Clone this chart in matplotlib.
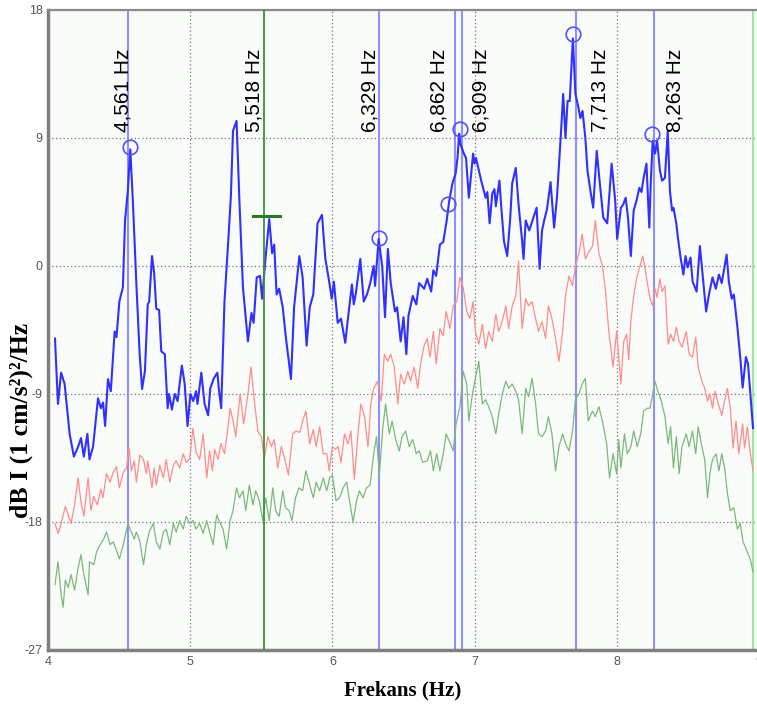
import numpy as np
import matplotlib
matplotlib.use("Agg")
import matplotlib.pyplot as plt

plt.rcParams['axes.unicode_minus'] = False
plt.rcParams['font.family'] = ['Liberation Sans', 'DejaVu Sans']

# spectrum curves: (frequency Hz, dB)
blue_pts = [
    (4.047, -5.1), (4.068, -9.7), (4.09, -7.5), (4.115, -8.3), (4.15, -11.8), (4.18, -13.4),
    (4.21, -12.7), (4.23, -12.1), (4.25, -13.4), (4.275, -11.8), (4.29, -13.6), (4.315, -12.7),
    (4.35, -9.3), (4.37, -10.0), (4.385, -9.6), (4.40, -11.25), (4.42, -7.95), (4.44, -8.8),
    (4.467, -4.6), (4.48, -5.0), (4.50, -2.5), (4.525, -1.5), (4.54, 3.2), (4.56, 5.3),
    (4.577, 8.2), (4.595, 4.6), (4.62, -1.3), (4.643, -6.2), (4.66, -8.65), (4.68, -7.4),
    (4.70, -2.7), (4.71, -2.5), (4.73, 0.7), (4.745, -0.5), (4.76, -3.0), (4.78, -3.1),
    (4.795, -6.0), (4.82, -6.2), (4.84, -10.0), (4.85, -9.0), (4.87, -10.1), (4.89, -9.0),
    (4.91, -9.5), (4.94, -7.0), (4.96, -8.3), (4.98, -11.25), (5.0, -9.0), (5.02, -9.5),
    (5.04, -8.8), (5.05, -9.7), (5.077, -7.5), (5.10, -9.7), (5.125, -10.5), (5.14, -8.6),
    (5.165, -7.9), (5.19, -7.5), (5.20, -8.6), (5.217, -10.0), (5.24, -2.5), (5.265, 1.5),
    (5.285, 4.9), (5.30, 9.5), (5.325, 10.2), (5.345, 4.6), (5.37, -1.5), (5.405, -5.3),
    (5.43, -3.3), (5.445, -4.0), (5.467, -0.8), (5.49, -0.7), (5.505, -2.3), (5.527, 0.35),
    (5.555, 3.3), (5.575, 0.9), (5.59, 1.5), (5.607, -2.0), (5.625, -1.6), (5.65, -2.9),
    (5.673, -5.1), (5.708, -7.95), (5.73, -2.9), (5.767, 0.7), (5.79, -0.8), (5.818, -5.6),
    (5.84, -2.9), (5.865, -2.0), (5.895, 3.0), (5.926, 3.6), (5.95, 0.5), (5.977, -1.1),
    (5.995, -2.3), (6.01, -1.1), (6.037, -4.0), (6.06, -3.7), (6.09, -5.4), (6.11, -3.6),
    (6.137, -1.3), (6.15, -2.7), (6.165, -1.9), (6.196, 0.5), (6.22, -2.5), (6.243, -2.0),
    (6.266, -1.2), (6.29, 0.0), (6.30, -1.4), (6.325, 1.9), (6.35, 0.0), (6.37, -3.6),
    (6.39, 1.2), (6.41, -1.2), (6.44, -3.2), (6.455, -2.9), (6.48, -5.3), (6.50, -3.6),
    (6.52, -6.2), (6.535, -3.5), (6.565, -2.1), (6.59, -2.7), (6.61, -1.2), (6.645, -1.6),
    (6.667, -0.9), (6.695, -1.8), (6.71, -0.3), (6.73, -0.7), (6.756, 1.5), (6.78, 1.7),
    (6.804, 3.2), (6.82, 4.45), (6.844, 5.8), (6.867, 6.5), (6.88, 7.6), (6.892, 9.3),
    (6.90, 8.6), (6.925, 7.9), (6.94, 7.6), (6.96, 4.8), (6.99, 7.9), (7.00, 7.2),
    (7.01, 7.6), (7.047, 6.0), (7.078, 4.8), (7.09, 5.2), (7.106, 3.0), (7.125, 5.1),
    (7.14, 5.4), (7.15, 4.2), (7.175, 6.0), (7.19, 3.9), (7.207, 1.75), (7.23, 0.7),
    (7.25, 3.2), (7.265, 5.8), (7.29, 6.9), (7.31, 4.3), (7.335, 1.75), (7.345, 0.5),
    (7.36, 3.2), (7.385, 2.5), (7.408, 3.2), (7.437, 4.1), (7.458, -0.2), (7.475, 2.5),
    (7.49, 3.2), (7.51, 4.0), (7.535, 5.9), (7.56, 2.7), (7.58, 4.8), (7.606, 9.0),
    (7.624, 12.1), (7.64, 9.0), (7.655, 11.6), (7.67, 11.6), (7.692, 16.0), (7.71, 12.1),
    (7.73, 11.2), (7.745, 10.4), (7.76, 10.9), (7.78, 9.0), (7.795, 6.7), (7.817, 5.2),
    (7.835, 4.1), (7.86, 8.1), (7.88, 6.0), (7.906, 3.4), (7.934, 3.0), (7.965, 7.2),
    (7.99, 4.6), (8.004, 1.9), (8.03, 4.1), (8.045, 4.3), (8.064, 4.8), (8.08, 3.4),
    (8.10, 0.7), (8.12, 3.9), (8.14, 4.6), (8.16, 5.5), (8.175, 5.2), (8.19, 6.2),
    (8.21, 7.2), (8.23, 2.7), (8.24, 5.8), (8.254, 8.8), (8.27, 7.9), (8.285, 8.8),
    (8.305, 6.7), (8.32, 6.0), (8.34, 6.2), (8.36, 9.5), (8.375, 5.3), (8.39, 3.9),
    (8.40, 4.1), (8.42, 3.0), (8.43, 2.1), (8.45, 0.6), (8.47, -0.6), (8.485, 0.7),
    (8.50, -0.1), (8.52, 0.6), (8.535, -1.1), (8.563, -1.8), (8.586, 1.4), (8.605, -0.6),
    (8.63, -3.2), (8.65, -2.0), (8.675, -0.8), (8.698, -1.6), (8.72, -0.6), (8.74, -1.2),
    (8.755, -0.3), (8.774, 0.8), (8.79, -1.1), (8.81, -2.3), (8.825, -2.0), (8.85, -4.3),
    (8.87, -6.4), (8.887, -8.55), (8.91, -6.4), (8.925, -6.9), (8.94, -8.8), (8.96, -11.4),
]

red_pts = [
    (4.047, -18.1), (4.07, -18.8), (4.09, -18.1), (4.12, -16.9), (4.14, -17.5), (4.16, -18.1),
    (4.185, -16.8), (4.21, -14.9), (4.23, -16.6), (4.25, -17.6), (4.28, -14.9), (4.30, -17.2),
    (4.32, -16.2), (4.345, -16.8), (4.37, -15.7), (4.385, -16.3), (4.41, -14.6), (4.435, -15.2),
    (4.457, -14.5), (4.48, -14.1), (4.50, -15.6), (4.528, -14.5), (4.55, -14.2), (4.568, -12.8),
    (4.585, -14.4), (4.605, -13.7), (4.62, -15.2), (4.645, -13.3), (4.67, -13.6), (4.69, -14.6),
    (4.70, -13.7), (4.73, -15.6), (4.745, -14.2), (4.76, -15.4), (4.785, -14.0), (4.81, -14.9),
    (4.83, -13.6), (4.855, -15.2), (4.88, -14.0), (4.90, -13.7), (4.925, -14.2), (4.95, -13.2),
    (4.97, -13.8), (4.995, -13.6), (5.018, -11.4), (5.04, -13.1), (5.065, -13.6), (5.09, -11.8),
    (5.115, -14.9), (5.135, -13.0), (5.155, -14.4), (5.17, -12.9), (5.195, -13.6), (5.215, -12.5),
    (5.24, -13.2), (5.26, -11.7), (5.28, -10.0), (5.30, -10.9), (5.32, -12.0), (5.35, -9.0),
    (5.375, -11.1), (5.405, -9.0), (5.427, -7.1), (5.45, -9.5), (5.475, -11.6), (5.50, -12.0),
    (5.52, -13.6), (5.545, -12.0), (5.57, -12.7), (5.59, -12.2), (5.615, -14.2), (5.64, -12.7),
    (5.66, -13.4), (5.69, -14.7), (5.72, -11.8), (5.745, -11.6), (5.77, -11.7), (5.79, -10.9),
    (5.813, -10.2), (5.84, -12.5), (5.865, -11.5), (5.885, -12.7), (5.91, -11.3), (5.935, -13.2),
    (5.96, -13.2), (5.977, -14.4), (6.0, -12.7), (6.02, -12.9), (6.04, -12.7), (6.06, -13.8),
    (6.085, -11.8), (6.11, -12.5), (6.13, -11.6), (6.154, -15.0), (6.18, -11.8), (6.20, -9.7),
    (6.226, -10.6), (6.25, -12.7), (6.27, -9.7), (6.29, -8.6), (6.318, -8.1), (6.343, -9.5),
    (6.365, -6.2), (6.39, -6.7), (6.41, -6.2), (6.435, -7.1), (6.46, -9.7), (6.48, -7.6),
    (6.505, -8.3), (6.53, -7.4), (6.55, -8.1), (6.575, -7.1), (6.60, -8.6), (6.62, -6.9),
    (6.645, -5.6), (6.667, -5.1), (6.687, -6.4), (6.71, -4.6), (6.73, -6.9), (6.756, -4.4),
    (6.78, -4.9), (6.80, -3.2), (6.827, -4.4), (6.85, -2.8), (6.875, -2.5), (6.897, -0.8),
    (6.92, -1.5), (6.945, -3.2), (6.967, -3.7), (6.99, -2.5), (7.006, -4.6), (7.03, -5.5),
    (7.055, -4.1), (7.078, -5.8), (7.10, -4.6), (7.125, -5.3), (7.15, -3.4), (7.17, -4.6),
    (7.195, -3.9), (7.22, -2.8), (7.24, -4.4), (7.265, -2.8), (7.29, -2.1), (7.31, 0.35),
    (7.335, -4.4), (7.36, -2.3), (7.38, -2.8), (7.405, -2.5), (7.43, -3.7), (7.45, -4.6),
    (7.475, -3.9), (7.50, -5.1), (7.52, -2.8), (7.545, -3.7), (7.57, -5.1), (7.594, -6.7),
    (7.62, -4.6), (7.64, -2.1), (7.665, -0.7), (7.69, -1.4), (7.71, 0.0), (7.735, 0.9),
    (7.758, 2.25), (7.78, 0.5), (7.80, 0.9), (7.83, 1.4), (7.85, 3.2), (7.875, 0.9),
    (7.90, 0.0), (7.92, -1.6), (7.945, -4.6), (7.975, -7.1), (8.0, -4.6), (8.015, -6.4),
    (8.03, -8.3), (8.05, -5.3), (8.07, -4.8), (8.085, -6.6), (8.10, -3.9), (8.12, -2.1),
    (8.14, -0.9), (8.165, 0.0), (8.184, 0.7), (8.20, -0.2), (8.22, -1.4), (8.235, -2.3),
    (8.254, -2.8), (8.27, -1.6), (8.285, -2.2), (8.305, -0.9), (8.32, -1.8), (8.34, -1.4),
    (8.363, -5.5), (8.38, -4.8), (8.40, -5.3), (8.42, -4.3), (8.44, -5.3), (8.46, -5.7),
    (8.49, -4.6), (8.51, -6.2), (8.534, -6.4), (8.557, -5.0), (8.574, -7.1), (8.60, -8.1),
    (8.62, -8.6), (8.64, -9.5), (8.656, -9.0), (8.675, -10.0), (8.692, -8.8), (8.716, -9.7),
    (8.74, -10.5), (8.76, -9.5), (8.78, -8.6), (8.80, -10.0), (8.82, -12.8), (8.84, -10.9),
    (8.86, -13.2), (8.887, -11.1), (8.90, -12.8), (8.92, -11.3), (8.94, -13.1), (8.96, -14.4),
]

green_pts = [
    (4.047, -22.4), (4.068, -20.8), (4.09, -23.1), (4.104, -24.0), (4.12, -22.1), (4.14, -22.6),
    (4.16, -21.7), (4.185, -22.8), (4.21, -21.2), (4.23, -20.3), (4.25, -21.7), (4.28, -23.1),
    (4.29, -20.8), (4.32, -21.0), (4.34, -20.1), (4.365, -19.6), (4.39, -19.2), (4.41, -18.7),
    (4.435, -19.6), (4.457, -19.4), (4.48, -20.0), (4.50, -20.6), (4.528, -19.6), (4.56, -18.1),
    (4.585, -18.7), (4.605, -19.2), (4.62, -18.7), (4.645, -19.4), (4.67, -21.0), (4.69, -19.6),
    (4.71, -18.7), (4.74, -18.1), (4.76, -19.4), (4.785, -19.9), (4.81, -18.7), (4.83, -18.5),
    (4.855, -19.6), (4.88, -18.1), (4.90, -18.7), (4.925, -17.9), (4.95, -18.5), (4.97, -17.6),
    (4.995, -18.1), (5.018, -17.9), (5.04, -18.5), (5.065, -18.1), (5.09, -18.8), (5.115, -17.9),
    (5.135, -18.7), (5.16, -19.6), (5.185, -17.5), (5.21, -18.1), (5.23, -18.5), (5.255, -19.9),
    (5.28, -17.9), (5.30, -17.2), (5.325, -15.6), (5.345, -16.3), (5.37, -15.8), (5.39, -17.2),
    (5.415, -15.4), (5.44, -16.8), (5.46, -15.8), (5.485, -16.5), (5.51, -17.9), (5.53, -16.3),
    (5.555, -17.9), (5.58, -15.6), (5.60, -17.2), (5.625, -17.6), (5.65, -15.8), (5.67, -17.0),
    (5.695, -17.2), (5.715, -17.9), (5.74, -16.3), (5.765, -15.6), (5.79, -15.8), (5.813, -14.4),
    (5.84, -15.4), (5.865, -16.3), (5.885, -15.2), (5.91, -15.8), (5.935, -14.9), (5.96, -15.8),
    (5.98, -14.9), (6.0, -14.7), (6.025, -16.5), (6.05, -16.3), (6.075, -15.6), (6.10, -15.2),
    (6.12, -16.5), (6.145, -18.0), (6.17, -16.5), (6.19, -15.8), (6.215, -16.3), (6.24, -15.6),
    (6.265, -15.4), (6.29, -13.2), (6.31, -12.0), (6.33, -14.7), (6.355, -11.3), (6.374, -9.7),
    (6.40, -11.8), (6.42, -10.9), (6.445, -12.2), (6.47, -13.0), (6.49, -12.0), (6.515, -11.6),
    (6.54, -12.7), (6.565, -12.2), (6.59, -13.2), (6.61, -13.0), (6.635, -13.8), (6.667, -13.7),
    (6.69, -13.0), (6.71, -14.4), (6.733, -13.2), (6.756, -14.4), (6.78, -13.2), (6.80, -11.8),
    (6.83, -12.5), (6.85, -13.0), (6.87, -11.1), (6.897, -9.9), (6.92, -7.4), (6.945, -8.3),
    (6.96, -10.9), (6.985, -9.0), (7.006, -7.9), (7.03, -6.7), (7.055, -9.7), (7.078, -9.4),
    (7.10, -9.9), (7.125, -10.6), (7.15, -11.8), (7.17, -10.4), (7.195, -9.0), (7.22, -8.1),
    (7.24, -8.6), (7.265, -8.3), (7.29, -8.8), (7.31, -9.4), (7.335, -11.8), (7.36, -8.6),
    (7.38, -9.2), (7.405, -7.9), (7.43, -9.7), (7.45, -11.8), (7.475, -12.0), (7.50, -11.6),
    (7.52, -10.6), (7.545, -11.8), (7.57, -14.4), (7.594, -12.7), (7.62, -11.8), (7.64, -12.5),
    (7.665, -13.0), (7.69, -11.6), (7.71, -9.4), (7.735, -9.0), (7.758, -8.3), (7.78, -7.9),
    (7.80, -10.9), (7.83, -10.2), (7.85, -10.6), (7.875, -9.9), (7.90, -10.9), (7.93, -12.5),
    (7.95, -14.9), (7.975, -13.2), (8.0, -14.6), (8.015, -12.2), (8.03, -14.2), (8.055, -11.8),
    (8.075, -13.2), (8.10, -12.7), (8.12, -11.6), (8.145, -12.7), (8.17, -11.8), (8.19, -10.2),
    (8.215, -10.0), (8.235, -10.0), (8.254, -9.0), (8.27, -8.1), (8.29, -8.8), (8.315, -9.5),
    (8.34, -10.6), (8.363, -12.5), (8.38, -11.3), (8.40, -14.2), (8.42, -12.0), (8.44, -14.6),
    (8.46, -12.7), (8.49, -11.8), (8.51, -12.7), (8.534, -11.6), (8.557, -13.2), (8.574, -11.3),
    (8.60, -12.7), (8.62, -13.6), (8.64, -16.3), (8.656, -14.6), (8.675, -13.6), (8.70, -13.2),
    (8.72, -14.4), (8.74, -13.2), (8.76, -14.2), (8.78, -16.0), (8.80, -17.2), (8.825, -17.0),
    (8.85, -18.5), (8.87, -18.1), (8.89, -19.4), (8.92, -20.1), (8.94, -20.6), (8.96, -21.5),
]

# picked peaks (blue cursors) and their labels
peak_freqs = [4.561, 6.329, 6.862, 6.909, 7.713, 8.263]
peak_labels = ["4,561 Hz", "6,329 Hz", "6,862 Hz", "6,909 Hz", "7,713 Hz", "8,263 Hz"]
peak_label_x = [4.526, 6.264, 6.750, 7.045, 7.882, 8.410]
marker_f = [4.577, 6.328, 6.813, 6.897, 7.692, 8.250]
marker_db = [8.4, 2.0, 4.35, 9.6, 16.3, 9.26]

# green cursor
cursor_freq = 5.518
cursor_label = "5,518 Hz"
cursor_label_x = 5.448
cursor_db = 3.5
edge_cursor_freq = 8.96

label_db = 9.45
x_ticks = [4, 5, 6, 7, 8, 9]
y_ticks = [-27, -18, -9, 0, 9, 18]

fig = plt.figure(figsize=(7.57, 7.11), dpi=100)
ax = fig.add_axes([48.3 / 757, 61 / 711, 710.4 / 757, 640 / 711])
ax.set_facecolor('#f9fbf9')
ax.set_xlim(4, 9)
ax.set_ylim(-27, 18)

ax.set_xticks(x_ticks)
ax.set_xticklabels([str(v) for v in x_ticks])
ax.set_yticks(y_ticks)
ax.set_yticklabels([str(v) for v in y_ticks])
ax.tick_params(length=0, pad=4, labelsize=9, labelcolor='#555555')
ax.grid(True, color='#777777', linestyle=(0, (1, 2)), linewidth=0.9)

for side in ['left', 'bottom']:
    ax.spines[side].set_color('#808080')
    ax.spines[side].set_linewidth(2.5)
ax.spines['top'].set_color('#8a8a8a')
ax.spines['top'].set_linewidth(1.6)
ax.spines['right'].set_visible(False)

for name, pts, col, lw in [('green', green_pts, '#7cb87c', 0.9),
                           ('red', red_pts, '#ff8c8c', 0.9),
                           ('blue', blue_pts, '#3030ff', 1.5)]:
    f, db = np.array(pts).T
    ax.plot(f, db, color=col, linewidth=lw, zorder=3)

for f in peak_freqs:
    ax.axvline(f, color='#8f8fff', linewidth=1.5, zorder=2)
ax.axvline(cursor_freq, color='#3a923a', linewidth=1.3, zorder=4)
ax.axvline(edge_cursor_freq, color='#98ec98', linewidth=1.5, zorder=2)
ax.plot([cursor_freq - 0.08, cursor_freq + 0.11], [cursor_db, cursor_db],
        color='#2a7a2a', linewidth=2.2, zorder=5)

ax.plot(marker_f, marker_db, linestyle='none', marker='o', markersize=10.5,
        markerfacecolor='none', markeredgecolor='#5050ff', markeredgewidth=1.2, zorder=5)

for x, lab in zip(peak_label_x + [cursor_label_x], peak_labels + [cursor_label]):
    ax.text(x, label_db, lab, rotation=90, ha='center', va='bottom',
            fontsize=15, color='black', zorder=6)

fig.text(21 / 757, 1 - 420 / 711, 'dB I (1 cm/s²)²/Hz', rotation=90,
         ha='center', va='center', fontsize=18.5, fontweight='bold',
         family=['Liberation Serif', 'DejaVu Serif'])
fig.text(403 / 757, 1 - 690 / 711, 'Frekans (Hz)', ha='center', va='center',
         fontsize=15, fontweight='bold', family=['Liberation Serif', 'DejaVu Serif'])

fig.savefig('out.png', dpi=100, facecolor='white')
